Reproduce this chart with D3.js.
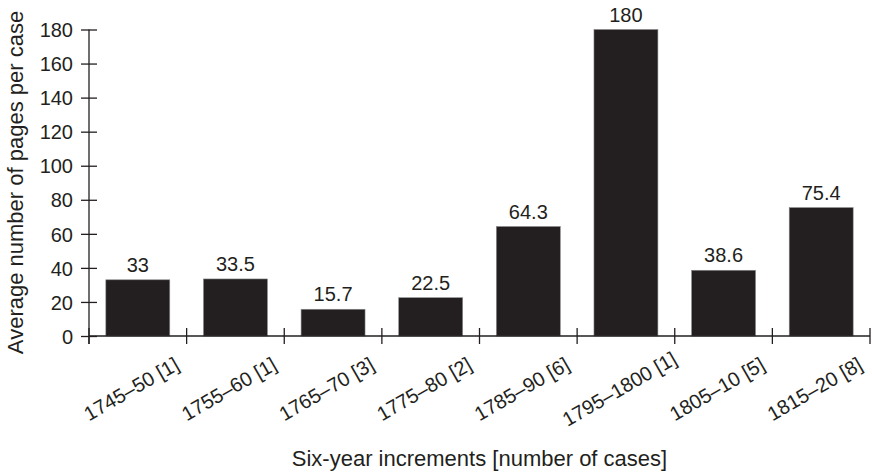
<!DOCTYPE html>
<html>
<head>
<meta charset="utf-8">
<script src="https://cdn.jsdelivr.net/npm/d3@7"></script>
<style>
  html, body { margin: 0; padding: 0; background: #fff; }
  svg { display: block; font-family: "Liberation Sans", Arial, Helvetica, sans-serif; }
</style>
</head>
<body>
<svg id="chart" width="872" height="473"></svg>
<script>
const categories = ["1745–50 [1]", "1755–60 [1]", "1765–70 [3]", "1775–80 [2]", "1785–90 [6]", "1795–1800 [1]", "1805–10 [5]", "1815–20 [8]"];
const values = [33, 33.5, 15.7, 22.5, 64.3, 180, 38.6, 75.4];
const valueLabels = ["33", "33.5", "15.7", "22.5", "64.3", "180", "38.6", "75.4"];
const yTicks = [0, 20, 40, 60, 80, 100, 120, 140, 160, 180];
const xTitle = "Six-year increments [number of cases]";
const yTitle = "Average number of pages per case";

const ink = "#231f20";
const svg = d3.select("#chart");
const mLeft = 89, mRight = 870, mTop = 29.5, mBottom = 336;

const x = d3.scaleBand().domain(categories).range([mLeft, mRight])
  .paddingInner(0.345).paddingOuter(0.1725);
const y = d3.scaleLinear().domain([0, 180]).range([mBottom, mTop]);

// bars
svg.append("g").selectAll("rect").data(categories).join("rect")
  .attr("x", d => x(d))
  .attr("width", x.bandwidth())
  .attr("y", (d, i) => y(values[i]))
  .attr("height", (d, i) => y(0) - y(values[i]))
  .attr("fill", ink)
  .attr("stroke", "#8a8a8a")
  .attr("stroke-width", 0.6);

// value labels
svg.append("g").selectAll("text").data(categories).join("text")
  .attr("x", d => x(d) + x.bandwidth() / 2)
  .attr("y", (d, i) => y(values[i]) - 8)
  .attr("text-anchor", "middle")
  .attr("font-size", 20)
  .attr("fill", ink)
  .text((d, i) => valueLabels[i]);

// y axis
const yAxis = d3.axisLeft(y).tickValues(yTicks).tickSize(0).tickPadding(0);
const yg = svg.append("g").attr("transform", `translate(${mLeft},0)`).call(yAxis);
yg.select(".domain").remove();
yg.selectAll(".tick text").attr("font-size", 20).attr("fill", ink)
  .attr("x", -16).attr("dy", "0.36em").style("font-family", "inherit");
yg.selectAll(".tick").append("line")
  .attr("x1", -8).attr("x2", 8).attr("stroke", ink).attr("stroke-width", 1.3);
yg.append("line").attr("x1", 0).attr("x2", 0).attr("y1", y(180)).attr("y2", mBottom + 8)
  .attr("stroke", ink).attr("stroke-width", 1.3);

// x axis
const xg = svg.append("g").attr("transform", `translate(0,${mBottom})`);
xg.append("line").attr("x1", mLeft).attr("x2", mRight).attr("y1", 0).attr("y2", 0)
  .attr("stroke", ink).attr("stroke-width", 1.3);
const step = x.step();
const boundaries = categories.map(d => x(d) - x.paddingInner() * step / 2)
  .concat([x(categories[categories.length - 1]) + x.bandwidth() + x.paddingInner() * step / 2]);
xg.selectAll("line.tk").data(boundaries).join("line").attr("class", "tk")
  .attr("x1", d => d).attr("x2", d => d).attr("y1", -8).attr("y2", 8)
  .attr("stroke", ink).attr("stroke-width", 1.3);
xg.selectAll("text").data(categories).join("text")
  .attr("transform", d => `translate(${x(d) + x.bandwidth() / 2 - 3},59) rotate(-30)`)
  .attr("text-anchor", "middle")
  .attr("font-size", 20)
  .attr("fill", ink)
  .text(d => d);

// titles
svg.append("text")
  .attr("x", (mLeft + mRight) / 2).attr("y", 466)
  .attr("text-anchor", "middle").attr("font-size", 22).attr("fill", ink)
  .text(xTitle);
svg.append("text")
  .attr("transform", `translate(23,182.5) rotate(-90)`)
  .attr("text-anchor", "middle").attr("font-size", 22).attr("fill", ink)
  .text(yTitle);
</script>
</body>
</html>
